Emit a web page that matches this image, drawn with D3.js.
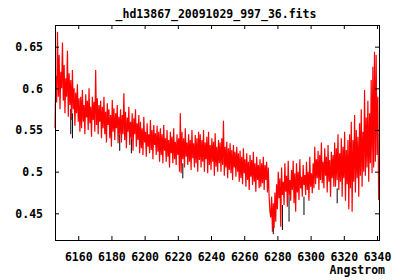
<!DOCTYPE html>
<html>
<head>
<meta charset="utf-8">
<script src="https://cdn.jsdelivr.net/npm/d3@7"></script>
<style>
  body { margin: 0; background: #fff; }
  text { font-family: "DejaVu Sans Mono", monospace; font-weight: bold; font-size: 11.5px; fill: #000; }
</style>
</head>
<body>
<svg width="400" height="280"></svg>
<script>
const title = "_hd13867_20091029_997_36.fits"
const xLabel = "Angstrom"

// spectrum sampled on a 0.5 A grid from 6146 A
const waveStart = 6146
const waveStep = 0.5
const flux = [
  0.552, 0.615, 0.583, 0.668, 0.590, 0.640, 0.575, 0.620, 0.600,
  0.655, 0.585, 0.628, 0.570, 0.612, 0.590, 0.645, 0.566, 0.618, 0.580,
  0.610, 0.562, 0.622, 0.575, 0.600, 0.555, 0.595, 0.570, 0.605, 0.560, 0.588, 0.548,
  0.590, 0.552, 0.598, 0.560, 0.580, 0.545, 0.593, 0.565, 0.585, 0.550, 0.600, 0.558,
  0.578, 0.542, 0.590, 0.562, 0.584, 0.548, 0.622, 0.556, 0.588, 0.545, 0.580, 0.560,
  0.585, 0.540, 0.578, 0.552, 0.590, 0.545, 0.572, 0.535, 0.582, 0.556, 0.575, 0.540,
  0.568, 0.530, 0.586, 0.548, 0.576, 0.538, 0.570, 0.552, 0.580, 0.534, 0.566, 0.545,
  0.575, 0.535, 0.568, 0.545, 0.594, 0.538, 0.572, 0.528, 0.565, 0.548, 0.578, 0.532,
  0.560, 0.540, 0.570, 0.525, 0.564, 0.545, 0.575, 0.530, 0.558, 0.538, 0.568, 0.522,
  0.560, 0.528, 0.552, 0.520, 0.566, 0.535, 0.548, 0.518, 0.558, 0.530, 0.545, 0.522,
  0.562, 0.526, 0.550, 0.515, 0.556, 0.532, 0.546, 0.520, 0.555, 0.524, 0.548, 0.512,
  0.552, 0.520, 0.545, 0.510, 0.556, 0.525, 0.540, 0.512, 0.550, 0.518, 0.538, 0.505,
  0.548, 0.522, 0.542, 0.510, 0.552, 0.515, 0.536, 0.508, 0.545, 0.520, 0.540, 0.500,
  0.570, 0.498, 0.548, 0.515, 0.540, 0.505, 0.552, 0.518, 0.535, 0.508, 0.545, 0.512,
  0.538, 0.502, 0.550, 0.516, 0.534, 0.505, 0.544, 0.510, 0.540, 0.500, 0.548, 0.514,
  0.545, 0.505, 0.538, 0.512, 0.550, 0.500, 0.535, 0.515, 0.542, 0.498, 0.548, 0.508,
  0.532, 0.502, 0.540, 0.512, 0.536, 0.495, 0.546, 0.506, 0.530, 0.500, 0.538, 0.510,
  0.535, 0.500, 0.540, 0.508, 0.561, 0.495, 0.530, 0.505, 0.536, 0.492, 0.528, 0.502,
  0.534, 0.498, 0.526, 0.490, 0.532, 0.505, 0.524, 0.494, 0.530, 0.500, 0.522, 0.488,
  0.525, 0.492, 0.518, 0.485, 0.528, 0.498, 0.515, 0.482, 0.522, 0.490, 0.512, 0.478,
  0.520, 0.494, 0.514, 0.484, 0.524, 0.488, 0.510, 0.476, 0.518, 0.490, 0.508, 0.480,
  0.515, 0.482, 0.510, 0.486, 0.518, 0.478, 0.508, 0.490, 0.512, 0.475, 0.505, 0.470, 0.452,
  0.445, 0.470, 0.428, 0.462, 0.432, 0.475, 0.440, 0.485, 0.455,
  0.500, 0.468, 0.492, 0.434, 0.505, 0.472, 0.488, 0.460, 0.510, 0.476,
  0.495, 0.458, 0.513, 0.470, 0.490, 0.465, 0.502, 0.478, 0.513, 0.462,
  0.498, 0.452, 0.510, 0.475, 0.500, 0.466, 0.515, 0.480, 0.494, 0.470, 0.508, 0.484,
  0.496, 0.472, 0.512, 0.478, 0.500, 0.465, 0.518, 0.482, 0.498, 0.474, 0.510, 0.480,
  0.530, 0.485, 0.515, 0.492, 0.525, 0.478, 0.520, 0.490, 0.535, 0.486, 0.512, 0.480,
  0.528, 0.495, 0.518, 0.475, 0.532, 0.488, 0.514, 0.470, 0.524, 0.492, 0.520, 0.482,
  0.535, 0.482, 0.528, 0.490, 0.545, 0.478, 0.522, 0.488, 0.540,
  0.470, 0.530, 0.492, 0.548, 0.465, 0.526, 0.485, 0.538, 0.455,
  0.545, 0.480, 0.560, 0.452, 0.538, 0.488, 0.568, 0.475, 0.550,
  0.492, 0.542, 0.470, 0.558, 0.495, 0.575, 0.482, 0.548, 0.500,
  0.598, 0.495, 0.565, 0.505, 0.585, 0.488, 0.570, 0.510, 0.610,
  0.498, 0.626, 0.505, 0.644, 0.512, 0.640, 0.520, 0.590, 0.466
]

// black trace showing under the red one in a few places
const blackWave = [6155.5, 6156.5, 6185, 6192, 6223, 6277.5, 6283, 6287, 6296, 6316]
const blackLo = [0.545, 0.540, 0.525, 0.522, 0.492, 0.425, 0.430, 0.440, 0.448, 0.462]
const blackHi = [0.575, 0.570, 0.545, 0.540, 0.510, 0.450, 0.460, 0.470, 0.470, 0.480]

const xTicks = [6160, 6180, 6200, 6220, 6240, 6260, 6280, 6300, 6320, 6340]
const yTicks = [0.45, 0.5, 0.55, 0.6, 0.65]

const svg = d3.select('svg')

const plotLeft = 55, plotRight = 379, plotTop = 25, plotBottom = 240

const scaleX = d3.scaleLinear()
  .domain([6146, 6341.2])
  .range([plotLeft, plotRight])

const scaleY = d3.scaleLinear()
  .domain([0.418, 0.676])
  .range([plotBottom, plotTop])

const spectrum = flux.map((f, i) => ({ w: waveStart + i * waveStep, f: f }))

// data
svg.append('g')
  .selectAll('line')
  .data(blackWave)
  .enter()
  .append('line')
  .attr('x1', d => scaleX(d))
  .attr('x2', d => scaleX(d))
  .attr('y1', (d, i) => scaleY(blackLo[i]))
  .attr('y2', (d, i) => scaleY(blackHi[i]))
  .attr('stroke', '#000')
  .attr('stroke-width', 1)

const line = d3.line()
  .x(d => scaleX(d.w))
  .y(d => scaleY(d.f))

svg.append('path')
  .datum(spectrum)
  .attr('d', line)
  .attr('fill', 'none')
  .attr('stroke', '#ff0000')
  .attr('stroke-width', 1.2)

// axes, gnuplot style: ticks inward on all four sides
const axisX = d3.axisBottom(scaleX)
  .tickValues(xTicks)
  .tickSizeInner(-4)
  .tickSizeOuter(0)
  .tickPadding(13)
  .tickFormat(d3.format('d'))

const axisY = d3.axisLeft(scaleY)
  .tickValues(yTicks)
  .tickSizeInner(-4)
  .tickSizeOuter(0)
  .tickPadding(12)
  .tickFormat(d => String(d))

svg.append('g')
  .attr('transform', `translate(0, ${plotBottom})`)
  .call(axisX)

svg.append('g')
  .attr('transform', `translate(${plotLeft}, 0)`)
  .call(axisY)

svg.append('g')
  .attr('transform', `translate(0, ${plotTop})`)
  .call(d3.axisTop(scaleX).tickValues(xTicks).tickSizeInner(-4).tickSizeOuter(0).tickFormat(''))

svg.append('g')
  .attr('transform', `translate(${plotRight}, 0)`)
  .call(d3.axisRight(scaleY).tickValues(yTicks).tickSizeInner(-4).tickSizeOuter(0).tickFormat(''))

svg.selectAll('.domain').remove()
svg.selectAll('.tick line').attr('stroke', '#000')
svg.selectAll('.tick text')
  .attr('font-family', null)
  .attr('font-size', null)

svg.append('rect')
  .attr('x', plotLeft)
  .attr('y', plotTop)
  .attr('width', plotRight - plotLeft)
  .attr('height', plotBottom - plotTop)
  .attr('fill', 'none')
  .attr('stroke', '#000')
  .attr('stroke-width', 1)
  .attr('shape-rendering', 'crispEdges')

svg.append('text')
  .attr('x', 216)
  .attr('y', 18)
  .attr('text-anchor', 'middle')
  .text(title)

svg.append('text')
  .attr('x', 385)
  .attr('y', 274)
  .attr('text-anchor', 'end')
  .text(xLabel)
</script>
</body>
</html>
